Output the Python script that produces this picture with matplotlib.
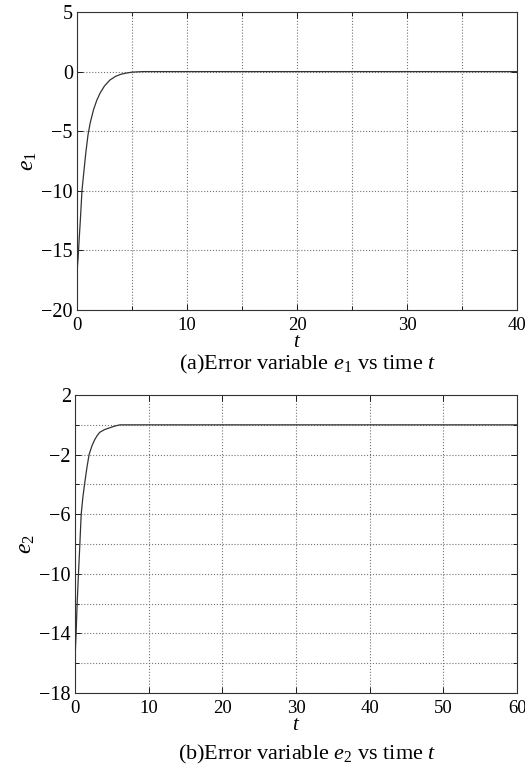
import numpy as np
import matplotlib
matplotlib.use("Agg")
import matplotlib.pyplot as plt
from matplotlib.ticker import MultipleLocator

plt.rcParams["font.family"] = ["Liberation Serif", "DejaVu Serif"]
plt.rcParams["mathtext.fontset"] = "custom"
plt.rcParams["mathtext.rm"] = "Liberation Serif"
plt.rcParams["mathtext.it"] = "Liberation Serif:italic"

# ----- data -----
t1 = [0, 0.1, 0.2, 0.3, 0.45, 0.6, 0.8, 1.0, 1.2, 1.5, 1.8, 2.1, 2.5,
      3.0, 3.5, 4.0, 4.5, 5.0, 5.5, 6.0, 40]
e1 = [-16.8, -15.6, -14.0, -12.5, -10.0, -8.6, -6.8, -5.3, -4.3, -3.2, -2.4,
      -1.8, -1.2, -0.7, -0.4, -0.22, -0.12, -0.05, -0.02, 0.0, 0.0]

t2 = [0, 0.14, 0.28, 0.46, 0.65, 0.83, 1.05, 1.28, 1.6, 1.9, 2.3, 2.66,
      3.0, 3.35, 4.0, 4.7, 5.4, 6.1, 60]
e2 = [-15.6, -14.0, -12.0, -10.0, -8.0, -6.0, -4.9, -4.0, -2.9, -2.0, -1.4,
      -1.0, -0.72, -0.5, -0.32, -0.2, -0.08, 0.0, 0.0]

captions = [r"(a)Error variable $e_1$ vs time $t$",
            r"(b)Error variable $e_2$ vs time $t$"]
ylabels = [r"$e_1$", r"$e_2$"]

fig = plt.figure(figsize=(5.25, 7.69), dpi=100)
ax1 = fig.add_axes([0.1467, 0.5969, 0.8383, 0.3875])
ax2 = fig.add_axes([0.1430, 0.0988, 0.8420, 0.3875])

setups = [
    (ax1, t1, e1, (0, 40), (-20, 5), 10, 5, 5, 5),
    (ax2, t2, e2, (0, 60), (-18, 2), 10, 10, 4, 2),
]
for ax, t, e, xl, yl, xmaj, xmin, ymaj, ymin in setups:
    ax.plot(t, e, color="#333333", lw=0.9)
    ax.set_xlim(*xl)
    ax.set_ylim(*yl)
    ax.xaxis.set_major_locator(MultipleLocator(xmaj))
    ax.xaxis.set_minor_locator(MultipleLocator(xmin))
    ax.yaxis.set_major_locator(MultipleLocator(ymaj))
    ax.yaxis.set_minor_locator(MultipleLocator(ymin))
    ax.set_yticks(np.arange(yl[0], yl[1] + 0.1, ymaj))
    ax.grid(True, which="both", linestyle=":", color="0.45", lw=0.8)
    ax.set_axisbelow(True)
    ax.tick_params(which="both", direction="in", top=True, right=True,
                   width=0.6)
    ax.tick_params(axis="x", pad=5, labelsize=13.5)
    ax.tick_params(axis="y", pad=3, labelsize=14.5)
    ax.tick_params(which="major", length=4)
    ax.tick_params(which="minor", length=3)
    for s in ax.spines.values():
        s.set_linewidth(0.8)
        s.set_color("#333333")
    ax.set_xlabel(r"$t$", fontsize=15, labelpad=-1)

ax1.set_yticklabels(["\u221220", "\u221215", "\u221210", "\u22125", "0", "5"])
ax2.set_yticklabels(["\u221218", "\u221214", "\u221210", "\u22126", "\u22122", "2"])
ax1.set_ylabel(ylabels[0], fontsize=17, labelpad=2)
ax2.set_ylabel(ylabels[1], fontsize=17, labelpad=2)

fig.text(0.586, 1 - 364 / 769, captions[0], ha="center", va="center", fontsize=16)
fig.text(0.586, 1 - 754 / 769, captions[1], ha="center", va="center", fontsize=16)

fig.savefig("out.png", dpi=100)
